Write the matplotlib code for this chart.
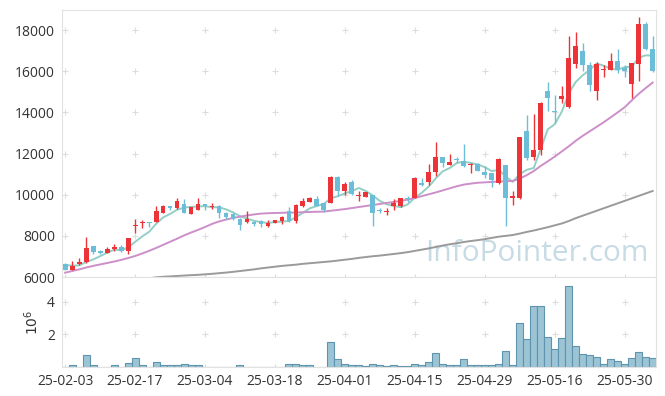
import numpy as np
import pandas as pd
import matplotlib
matplotlib.use("Agg")
import matplotlib.pyplot as plt

plt.rcParams["font.family"] = ["Open Sans", "DejaVu Sans"]

# trading days (KRX holidays removed)
holidays = ["2025-03-03", "2025-05-01", "2025-05-05", "2025-05-06", "2025-06-03", "2025-06-06"]
dates = pd.bdate_range("2025-02-03", "2025-06-09", freq="C", holidays=holidays)

opens = [6650, 6340, 6620, 6715, 7510, 7270, 7170, 7360, 7460, 7270,
         8480, 8600, 8680, 8690, 9120, 9460, 9330, 9540, 9050, 9240,
         9540, 9390, 9430, 9100, 9050, 8840, 8650, 8680, 8720, 8500,
         8640, 8700, 9220, 8700, 9450, 9660, 9800, 9580, 9620, 10880,
         10200, 10600, 9920, 9910, 9980, 9260, 9170, 9460, 9430, 9850,
         9830, 10590, 10640, 11080, 11820, 11460, 11740, 11620, 11430, 11490,
         11120, 11050, 10560, 11450, 9820, 9850, 13100, 11810, 12160, 15050,
         14080, 14640, 14280, 16360, 17000, 16310, 15050, 16050, 16070, 16510,
         16150, 15400, 16340, 18300, 17100]
highs = [6690, 6760, 6940, 7960, 7510, 7310, 7460, 7590, 7560, 7900,
         8810, 8790, 8690, 9430, 9500, 9470, 9830, 9780, 9400, 9830,
         9550, 9590, 9480, 9150, 9100, 8850, 9200, 8700, 8750, 8780,
         8780, 8960, 9400, 9540, 9830, 9900, 9950, 9600, 10900, 10900,
         10620, 10700, 10200, 10120, 9990, 9330, 9330, 9780, 9860, 9920,
         10850, 10790, 11490, 12570, 11830, 12000, 11830, 12470, 11540, 11540,
         11400, 11070, 11800, 11460, 10200, 12790, 13880, 13930, 14500, 15500,
         14850, 15300, 17730, 17900, 17380, 16450, 16450, 16310, 16900, 17070,
         16310, 16400, 18620, 18400, 17690]
lows = [6330, 6330, 6600, 6700, 7100, 7100, 7150, 7260, 7210, 7120,
        8150, 8380, 8450, 8690, 9120, 9240, 9320, 9100, 9040, 9240,
        9240, 9320, 8890, 8840, 8780, 8270, 8640, 8470, 8450, 8450,
        8620, 8560, 8660, 8600, 9400, 9650, 9440, 9150, 9600, 9950,
        10000, 9980, 9700, 9890, 8480, 9100, 9000, 9250, 9420, 9660,
        9820, 10400, 10450, 10900, 11330, 11420, 11560, 11360, 11060, 11160,
        10800, 10360, 10530, 8490, 9500, 9800, 11690, 11700, 11940, 14050,
        13490, 14450, 14210, 16150, 16000, 15050, 14610, 15700, 16050, 15900,
        15730, 14690, 15540, 17050, 15950]
closes = [6360, 6550, 6715, 7400, 7220, 7170, 7380, 7460, 7270, 7900,
          8520, 8680, 8600, 9210, 9460, 9370, 9700, 9120, 9390, 9540,
          9460, 9440, 9100, 8900, 8820, 8520, 8840, 8580, 8570, 8610,
          8760, 8930, 8740, 9480, 9700, 9860, 9460, 9270, 10860, 10190,
          10540, 10040, 10000, 10110, 9100, 9230, 9220, 9580, 9830, 9810,
          10830, 10450, 11080, 11820, 11530, 11610, 11670, 11380, 11510, 11170,
          10960, 10690, 11740, 9830, 9920, 12790, 11770, 12180, 14450, 14690,
          14030, 14800, 16640, 17240, 16310, 15340, 16350, 16090, 16510, 16070,
          15990, 16400, 18300, 17100, 15990]
prior_closes = [6700, 6650, 6600, 6600]  # last closes before the window, for MA5

ma20 = [6210, 6290, 6370, 6460, 6540, 6610, 6680, 6750, 6830, 6920,
        7020, 7140, 7270, 7410, 7560, 7710, 7860, 8020, 8160, 8290,
        8430, 8580, 8700, 8790, 8870, 8930, 8990, 9040, 9080, 9100,
        9110, 9120, 9130, 9130, 9150, 9160, 9170, 9180, 9220, 9260,
        9300, 9350, 9400, 9450, 9500, 9550, 9600, 9650, 9700, 9760,
        9840, 9930, 10020, 10110, 10210, 10310, 10410, 10490, 10540, 10580,
        10600, 10620, 10640, 10650, 10670, 10780, 10950, 11150, 11400, 11620,
        11850, 12100, 12350, 12620, 12860, 13080, 13300, 13520, 13760, 14000,
        14250, 14580, 14900, 15180, 15450]
ma60 = [5450, 5490, 5530, 5570, 5610, 5650, 5690, 5730, 5770, 5810,
        5850, 5890, 5930, 5985, 6010, 6030, 6050, 6070, 6090, 6105,
        6130, 6155, 6185, 6215, 6250, 6290, 6330, 6370, 6420, 6460,
        6500, 6540, 6570, 6600, 6640, 6670, 6700, 6730, 6760, 6800,
        6840, 6880, 6930, 6970, 7010, 7040, 7080, 7120, 7160, 7210,
        7270, 7330, 7390, 7460, 7530, 7590, 7640, 7700, 7750, 7790,
        7840, 7900, 7960, 8000, 8040, 8110, 8190, 8260, 8340, 8420,
        8510, 8600, 8720, 8860, 8980, 9100, 9220, 9340, 9460, 9580,
        9700, 9820, 9940, 10060, 10180]

volume_m = [0.02, 0.10, 0.02, 0.72, 0.10, 0.03, 0.03, 0.10, 0.03, 0.22,
            0.53, 0.10, 0.03, 0.29, 0.10, 0.10, 0.15, 0.20, 0.10, 0.10,
            0.03, 0.03, 0.03, 0.03, 0.03, 0.15, 0.03, 0.03, 0.01, 0.03,
            0.01, 0.03, 0.20, 0.20, 0.10, 0.10, 0.03, 0.03, 1.51, 0.47,
            0.16, 0.10, 0.10, 0.05, 0.20, 0.10, 0.05, 0.10, 0.05, 0.05,
            0.20, 0.10, 0.29, 0.84, 0.20, 0.15, 0.10, 0.47, 0.15, 0.10,
            0.15, 0.15, 0.20, 0.98, 0.10, 2.67, 1.69, 3.73, 3.73, 1.81,
            1.08, 1.75, 4.95, 1.26, 0.77, 0.72, 0.59, 0.20, 0.47, 0.35,
            0.20, 0.53, 0.90, 0.59, 0.53]

df = pd.DataFrame({"Open": opens, "High": highs, "Low": lows, "Close": closes,
                   "MA20": ma20, "MA60": ma60, "Volume": np.array(volume_m) * 1e6}, index=dates)
all_close = pd.Series(prior_closes + closes)
df["MA5"] = all_close.rolling(5).mean().iloc[len(prior_closes):].values

UP, DOWN = "#ec3338", "#6cbdd8"
x = np.arange(len(df))
up = df["Close"] >= df["Open"]
colors = np.where(up, UP, DOWN)

fig = plt.figure(figsize=(6.65, 3.96), dpi=100)
ax = fig.add_axes([0.0932, 0.3005, 0.893, 0.674])
axv = fig.add_axes([0.0932, 0.0732, 0.893, 0.2273], sharex=ax)

ax.plot(x, df["MA5"], color="#93cfc6", lw=1.4, zorder=2)
ax.plot(x, df["MA20"], color="#cc8fc9", lw=1.4, zorder=2)
ax.plot(x, df["MA60"], color="#9a9a9a", lw=1.4, zorder=2)

ax.vlines(x, df["Low"], df["High"], colors=colors, lw=1.0, zorder=3)
body = np.maximum((df["Close"] - df["Open"]).abs(), 40)
ax.bar(x, body, bottom=np.minimum(df["Open"], df["Close"]), width=0.7, color=colors, zorder=4)

ax.text(0.988, 0.035, "InfoPointer.com", transform=ax.transAxes, ha="right", va="bottom",
        fontsize=21.5, color="#c7dbe5", zorder=1)

axv.bar(x, df["Volume"], width=1.0, color="#9cc4d4", edgecolor="#5e94ad", lw=0.8)

xt = np.arange(0, len(df), 10)
ax.set_xlim(-0.45, len(df) - 0.55)
ax.set_ylim(6000, 18970)
ax.set_yticks(range(6000, 18001, 2000))
axv.set_ylim(0, 5.5e6)
axv.set_yticks([2e6, 4e6])
axv.set_yticklabels(["2", "4"])
axv.set_ylabel("$10^6$", fontsize=10, color="#333333", labelpad=4)
axv.set_xticks(xt)
axv.set_xticklabels([d.strftime("%y-%m-%d") for d in df.index[xt]])
plt.setp(ax.get_xticklabels(), visible=False)

for a, yt in ((ax, range(6000, 18001, 2000)), (axv, [0, 2e6, 4e6])):
    gx, gy = np.meshgrid(xt, list(yt))
    a.scatter(gx.ravel(), gy.ravel(), marker="+", s=18, color="#dddddd", lw=0.8, zorder=0)
    a.tick_params(length=0, labelsize=10, colors="#333333", pad=5)
    for s in a.spines.values():
        s.set_color("#e2e2e2")

fig.savefig("out.png", dpi=100)
